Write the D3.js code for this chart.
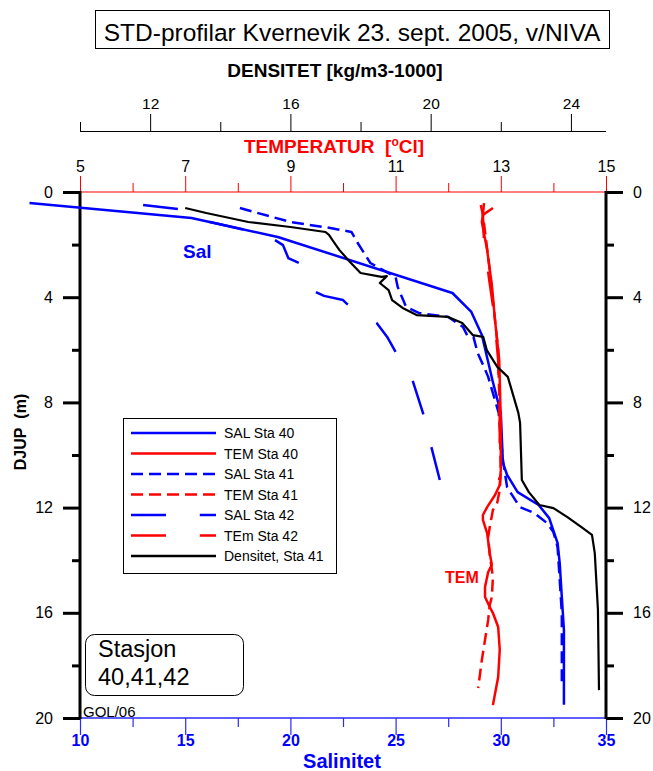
<!DOCTYPE html>
<html><head><meta charset="utf-8">
<script src="https://cdn.jsdelivr.net/npm/d3@7"></script>
<style>
body{margin:0;background:#fff;}
svg{display:block;font-family:Arial,"Liberation Sans",sans-serif;}
</style></head>
<body>
<svg id="chart" width="653" height="771"></svg>
<script>
// ---------- DATA ----------
const titleText = "STD-profilar Kvernevik 23. sept. 2005, v/NIVA";
const depthTicksMajor = [0, 4, 8, 12, 16, 20];
const depthTicksMinor = [2, 6, 10, 14, 18];
const salTicksMajor = [10, 15, 20, 25, 30, 35];
const salTicksMinor = [12.5, 17.5, 22.5, 27.5, 32.5];
const temTicksMajor = [5, 7, 9, 11, 13, 15];
const temTicksMinor = [6, 8, 10, 12, 14];
const denTicksMajor = [12, 16, 20, 24];
const denTicksMinor = [10, 14, 18, 22];

const sal40Depth = [0.42, 0.99, 1.71, 3.84, 4.56, 5.44, 7.15, 8.40, 10.30, 10.76, 11.41, 11.90, 12.40, 13.35, 14.11, 15.40, 16.65, 19.5];
const sal40 = [7.6, 15.3, 19.4, 27.7, 28.6, 29.1, 29.6, 30.0, 30.1, 30.3, 30.8, 31.8, 32.3, 32.7, 32.8, 32.9, 33.0, 33.0];

const sal41Depth = [0.61, 1.14, 1.37, 1.52, 1.94, 2.70, 3.23, 3.61, 4.37, 4.60, 4.75, 5.13, 5.44, 5.51, 6.12, 6.65, 7.03, 8.40, 10.19, 11.22, 11.98, 12.21, 12.59, 12.93, 13.50, 14.75, 16.01, 18.82];
const sal41 = [17.6, 20.0, 21.9, 22.9, 23.2, 23.8, 25.0, 25.1, 25.5, 26.1, 27.5, 28.2, 28.4, 28.7, 28.9, 29.2, 29.4, 29.9, 30.1, 30.3, 30.9, 31.6, 32.2, 32.5, 32.7, 32.8, 32.9, 32.9];

const sal42Depth = [0.49, 0.65, 1.14, 1.61, 1.83, 2.02, 2.51, 2.70, 3.80, 3.95, 4.11, 4.26, 4.98, 5.51, 6.08, 7.15, 8.40, 9.70, 10.95];
const sal42 = [13.0, 14.7, 16.18, 18.79, 19.27, 19.65, 19.9, 20.4, 21.2, 21.6, 22.5, 22.7, 24.1, 24.6, 25.0, 25.8, 26.3, 26.7, 27.1];

const tem40Depth = [0.61, 0.87, 1.14, 2.2, 3.54, 4.87, 6.39, 8.67, 10.57, 11.14, 11.52, 11.98, 12.28, 12.47, 12.97, 13.73, 14.18, 14.45, 15.02, 15.40, 15.78, 16.01, 16.54, 17.41, 18.44, 19.51];
const tem40 = [12.85, 12.66, 12.64, 12.74, 12.83, 12.89, 12.97, 13.00, 13.00, 12.98, 12.89, 12.74, 12.66, 12.66, 12.74, 12.79, 12.83, 12.76, 12.70, 12.70, 12.79, 12.85, 12.95, 12.98, 12.95, 12.85];

const tem41Depth = [0.49, 0.87, 1.83, 2.97, 4.49, 6.0, 8.67, 10.57, 11.33, 11.83, 12.09, 12.74, 13.12, 13.80, 14.64, 15.40, 15.70, 16.27, 17.03, 17.79, 18.86];
const tem41 = [12.62, 12.66, 12.72, 12.79, 12.87, 12.95, 12.98, 13.00, 12.98, 12.93, 12.85, 12.79, 12.76, 12.79, 12.85, 12.83, 12.79, 12.76, 12.70, 12.64, 12.57];

const tem42Depth = [0.42, 0.87, 1.83, 3.35, 4.6, 6.39, 8.67, 10.57, 10.95];
const tem42 = [12.68, 12.66, 12.68, 12.78, 12.87, 12.95, 12.98, 12.98, 12.97];

const den41Depth = [0.61, 0.80, 1.14, 1.33, 1.52, 1.63, 1.83, 2.21, 2.66, 3.08, 3.23, 3.20, 3.46, 3.73, 4.11, 4.41, 4.68, 4.75, 4.98, 5.44, 5.51, 6.01, 6.65, 7.03, 8.40, 8.78, 10.95, 11.41, 11.90, 12.02, 12.36, 12.74, 13.04, 13.73, 15.89, 18.94];
const den41 = [13.0, 13.6, 14.8, 16.0, 17.0, 17.1, 17.2, 17.4, 17.7, 18.0, 18.6, 18.75, 18.55, 18.8, 18.9, 19.2, 19.6, 20.5, 20.9, 21.2, 21.5, 21.6, 21.9, 22.2, 22.5, 22.55, 22.6, 22.8, 23.1, 23.5, 23.9, 24.3, 24.6, 24.68, 24.77, 24.8];

const legendLabels = ["SAL Sta 40", "TEM Sta 40", "SAL Sta 41", "TEM Sta 41", "SAL Sta 42", "TEm Sta 42", "Densitet, Sta 41"];

// ---------- LAYOUT ----------
const FONT = 'Arial,"Liberation Sans",sans-serif';
const svg = d3.select("#chart");
const L = 80, R = 606, T = 192, B = 718;

const y = d3.scaleLinear().domain([0, 20]).range([T, B]);
const xS = d3.scaleLinear().domain([10, 35]).range([L, R]);
const xT = d3.scaleLinear().domain([5, 15]).range([L, R]);
const xD = d3.scaleLinear().domain([10, 25]).range([L, R]);

const styles = {
  sal40: {color: "#0000ff", dash: null, w: 2.5},
  tem40: {color: "#ff0000", dash: null, w: 2.5},
  sal41: {color: "#0000ff", dash: "12,6", w: 2.5},
  tem41: {color: "#ff0000", dash: "12,6", w: 2.5},
  sal42: {color: "#0000ff", dash: "35,33.8", w: 2.5},
  tem42: {color: "#ff0000", dash: "35,33.8", w: 2.5},
  den41: {color: "#000000", dash: null, w: 2.2}
};

// Title box
svg.append("rect").attr("x", 95.5).attr("y", 10.5).attr("width", 514).attr("height", 38)
  .attr("fill", "none").attr("stroke", "#000").attr("stroke-width", 1);
svg.append("text").attr("x", 352).attr("y", 41).attr("text-anchor", "middle")
  .attr("font-size", 24.5).attr("fill", "#000").text(titleText);

// Density axis (top)
const gD = svg.append("g").attr("transform", `translate(0,131)`);
gD.append("line").attr("x1", L).attr("x2", R).attr("y1", 0.5).attr("y2", 0.5).attr("stroke", "#000");
const axD1 = d3.axisTop(xD).tickValues(denTicksMajor).tickSize(17).tickFormat(d3.format("d"));
const axD2 = d3.axisTop(xD).tickValues(denTicksMinor).tickSize(9).tickFormat("");
gD.append("g").call(axD1).call(g => g.select(".domain").remove());
gD.append("g").call(axD2).call(g => g.select(".domain").remove());
gD.selectAll("text").attr("font-size", 15.5).attr("font-family", FONT).attr("fill", "#000").attr("dy", "-0.1em");
gD.selectAll(".tick line").attr("stroke", "#000");
svg.append("text").attr("x", 335).attr("y", 77).attr("text-anchor", "middle")
  .attr("font-size", 19).attr("font-weight", "bold").attr("fill", "#000").text("DENSITET [kg/m3-1000]");

// Temperature axis (top of plot)
const gT = svg.append("g").attr("transform", `translate(0,${T})`);
const axT1 = d3.axisTop(xT).tickValues(temTicksMajor).tickSize(16).tickFormat(d3.format("d"));
const axT2 = d3.axisTop(xT).tickValues(temTicksMinor).tickSize(9).tickFormat("");
gT.append("g").call(axT1).call(g => g.select(".domain").remove());
gT.append("g").call(axT2).call(g => g.select(".domain").remove());
gT.append("line").attr("x1", L).attr("x2", R).attr("y1", 0).attr("y2", 0).attr("stroke", "#ff0000").attr("stroke-width", 1.2);
gT.selectAll(".tick line").attr("stroke", "#ff0000");
gT.selectAll("text").attr("font-size", 16).attr("font-family", FONT).attr("fill", "#000").attr("dy", "-0.05em");
const tt = svg.append("text").attr("x", 334).attr("y", 153).attr("text-anchor", "middle")
  .attr("font-size", 19).attr("font-weight", "bold").attr("fill", "#ff0000");
tt.append("tspan").text("TEMPERATUR\u00a0\u00a0[");
tt.append("tspan").attr("font-size", 12).attr("dy", -7).text("o");
tt.append("tspan").attr("dy", 7).text("Cl]");

// Salinity axis (bottom)
const gS = svg.append("g").attr("transform", `translate(0,${B})`);
const axS1 = d3.axisBottom(xS).tickValues(salTicksMajor).tickSize(17).tickFormat(d3.format("d"));
const axS2 = d3.axisBottom(xS).tickValues(salTicksMinor).tickSize(9).tickFormat("");
gS.append("g").call(axS1).call(g => g.select(".domain").remove());
gS.append("g").call(axS2).call(g => g.select(".domain").remove());
gS.append("line").attr("x1", L).attr("x2", R).attr("y1", 0).attr("y2", 0).attr("stroke", "#2a2aff").attr("stroke-width", 1.5);
gS.selectAll(".tick line").attr("stroke", "#2a2aff").attr("stroke-width", 1.2);
gS.selectAll("text").attr("font-size", 16).attr("font-weight", "bold").attr("font-family", FONT).attr("fill", "#0000ff").attr("dy", "0.5em");
svg.append("text").attr("x", 342).attr("y", 768).attr("text-anchor", "middle")
  .attr("font-size", 20).attr("font-weight", "bold").attr("fill", "#0000ff").text("Salinitet");

// Depth axes
function depthAxis(gen, x) {
  const g = svg.append("g").attr("transform", `translate(${x},0)`);
  g.call(gen);
  g.select(".domain").remove();
  g.selectAll(".tick line").attr("stroke", "#000").attr("stroke-width", 3);
  g.selectAll("text").attr("font-size", 16).attr("font-family", FONT).attr("fill", "#000");
  return g;
}
depthAxis(d3.axisLeft(y).tickValues(depthTicksMajor).tickSize(17).tickPadding(10).tickFormat(d3.format("d")), L);
depthAxis(d3.axisLeft(y).tickValues(depthTicksMinor).tickSize(8).tickFormat(""), L);
depthAxis(d3.axisRight(y).tickValues(depthTicksMajor).tickSize(17).tickPadding(10).tickFormat(d3.format("d")), R);
depthAxis(d3.axisRight(y).tickValues(depthTicksMinor).tickSize(8).tickFormat(""), R);
svg.append("line").attr("x1", L).attr("x2", L).attr("y1", T - 1).attr("y2", B + 1).attr("stroke", "#000").attr("stroke-width", 3);
svg.append("line").attr("x1", R).attr("x2", R).attr("y1", T - 1).attr("y2", B + 1).attr("stroke", "#000").attr("stroke-width", 3);
svg.append("text").attr("transform", `translate(26,432) rotate(-90)`).attr("text-anchor", "middle")
  .attr("font-size", 16).attr("font-weight", "bold").attr("fill", "#000").text("DJUP\u00a0\u00a0(m)");

// ---------- LINES ----------
function profile(values, depths, xs, st) {
  const pts = values.map((v, i) => [v, depths[i]]);
  const line = d3.line().x(d => xs(d[0])).y(d => y(d[1]));
  svg.append("path").datum(pts).attr("d", line).attr("fill", "none")
    .attr("stroke", st.color).attr("stroke-width", st.w)
    .attr("stroke-dasharray", st.dash).attr("stroke-linejoin", "round");
}
profile(sal42, sal42Depth, xS, styles.sal42);
profile(sal41, sal41Depth, xS, styles.sal41);
profile(sal40, sal40Depth, xS, styles.sal40);
profile(tem42, tem42Depth, xT, styles.tem42);
profile(tem41, tem41Depth, xT, styles.tem41);
profile(tem40, tem40Depth, xT, styles.tem40);
profile(den41, den41Depth, xD, styles.den41);

// Labels
svg.append("text").attr("x", 183).attr("y", 258).attr("font-size", 19).attr("font-weight", "bold").attr("fill", "#0000ff").text("Sal");
svg.append("text").attr("x", 445).attr("y", 583).attr("font-size", 16).attr("font-weight", "bold").attr("fill", "#ff0000").text("TEM");
svg.append("text").attr("x", 83).attr("y", 717).attr("font-size", 15).attr("fill", "#000").text("GOL/06");

// Legend
const leg = svg.append("g");
leg.append("rect").attr("x", 123.5).attr("y", 418.5).attr("width", 213).attr("height", 155)
  .attr("fill", "#fff").attr("stroke", "#000").attr("stroke-width", 1);
const legKeys = ["sal40", "tem40", "sal41", "tem41", "sal42", "tem42", "den41"];
legKeys.forEach((k, i) => {
  const yy = 433 + i * 20.5;
  const st = styles[k];
  leg.append("line").attr("x1", 131).attr("x2", 216).attr("y1", yy).attr("y2", yy)
    .attr("stroke", st.color).attr("stroke-width", 2.5).attr("stroke-dasharray", st.dash);
  leg.append("text").attr("x", 224).attr("y", yy + 5).attr("font-size", 14).attr("fill", "#000").text(legendLabels[i]);
});

// Station box
svg.append("rect").attr("x", 85.5).attr("y", 634.5).attr("width", 158).attr("height", 61).attr("rx", 9)
  .attr("fill", "#fff").attr("stroke", "#000").attr("stroke-width", 1);
svg.append("text").attr("x", 98).attr("y", 657).attr("font-size", 23.5).attr("fill", "#000").text("Stasjon");
svg.append("text").attr("x", 98).attr("y", 685).attr("font-size", 23.5).attr("fill", "#000").text("40,41,42");
</script>
</body></html>
